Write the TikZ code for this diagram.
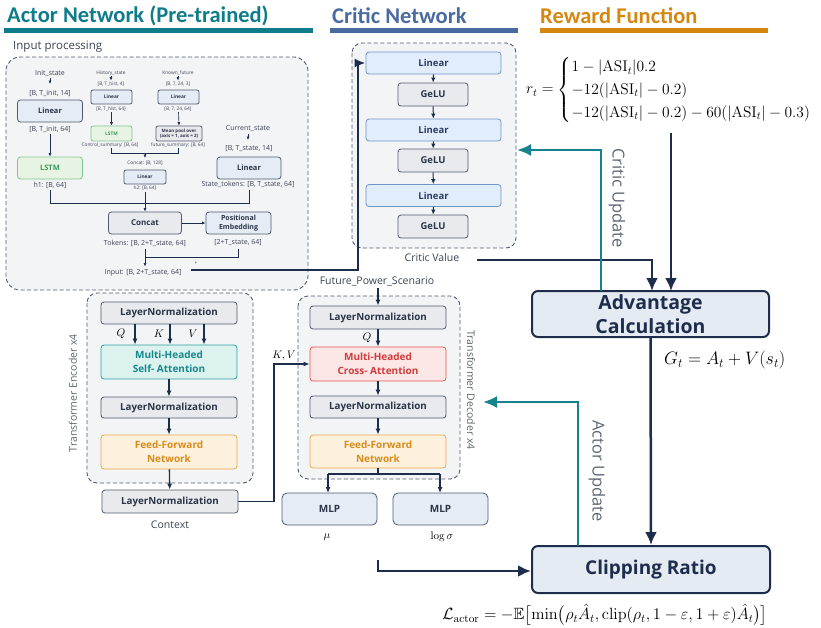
\RequirePackage{fix-cm}
\documentclass[tikz,border=0pt]{standalone}
\usepackage{amsmath,amssymb}
\usepackage[no-math]{fontspec}
\setmainfont{Open Sans}
\newfontfamily\hdfont{Carlito}
\usetikzlibrary{arrows.meta,calc}
\newcommand{\fsz}[2]{\fontsize{#1}{#2}\selectfont}
\definecolor{navy}{HTML}{1F2D4D}
\definecolor{navytext}{HTML}{2B3548}
\definecolor{edge}{HTML}{4F5A6E}
\definecolor{grayfill}{HTML}{E8EAEE}
\definecolor{bluefill}{HTML}{E5ECF5}
\definecolor{cbluefill}{HTML}{E1EDFA}
\definecolor{cblueedge}{HTML}{7395C6}
\definecolor{cbluetext}{HTML}{2B3A67}
\definecolor{bgfill}{HTML}{F3F4F6}
\definecolor{greenfill}{HTML}{E8F4E3}
\definecolor{greenedge}{HTML}{80C293}
\definecolor{greentext}{HTML}{3A9A5C}
\definecolor{tealfill}{HTML}{DCF2EF}
\definecolor{tealedge}{HTML}{2FA0A2}
\definecolor{tealtext}{HTML}{15888C}
\definecolor{orfill}{HTML}{FDF0DC}
\definecolor{oredge}{HTML}{E6A84C}
\definecolor{ortext}{HTML}{D98B1C}
\definecolor{redfill}{HTML}{FCE6E6}
\definecolor{rededge}{HTML}{E05555}
\definecolor{redtext}{HTML}{D03C3C}
\definecolor{hteal}{HTML}{0F7C8A}
\definecolor{hblue}{HTML}{4A6BA2}
\definecolor{horange}{HTML}{D5870F}
\definecolor{upteal}{HTML}{15828E}
\definecolor{graytext}{HTML}{5E6672}
\definecolor{lbltext}{HTML}{3B4354}
\definecolor{bigfill}{HTML}{E5EBF3}
\tikzset{
  base/.style={draw, rounded corners=3pt, inner sep=0pt, align=center, line width=0.8pt},
  graybox/.style={base, fill=grayfill, draw=edge, text=navytext},
  inbox/.style={base, fill=bluefill, draw=edge, text=navytext},
  cblue/.style={base, fill=cbluefill, draw=cblueedge, text=cbluetext},
  greenbox/.style={base, fill=greenfill, draw=greenedge, text=greentext},
  tealbox/.style={base, fill=tealfill, draw=tealedge, text=tealtext},
  orbox/.style={base, fill=orfill, draw=oredge, text=ortext},
  redbox/.style={base, fill=redfill, draw=rededge, text=redtext},
  bigbox/.style={base, fill=bigfill, draw=navy, line width=2pt, rounded corners=6pt, text=navy},
  dashbox/.style={draw=edge, fill=bgfill, dash pattern=on 4pt off 2.5pt, line width=0.9pt},
  lbl7/.style={font=\fsz{7}{8}, text=lbltext, inner sep=0pt},
  lbl5/.style={font=\fsz{4.8}{5.5}, text=lbltext, inner sep=0pt},
  lbl10/.style={font=\fsz{10.5}{12}, text=lbltext, inner sep=0pt},
  rotlbl/.style={font=\fsz{10.5}{12}, text=graytext, inner sep=0pt},
  updlbl/.style={font=\fsz{16.5}{19}, text=graytext, inner sep=0pt},
  thinarr/.style={draw=navy, line width=0.6pt, -{Latex[length=3.5pt,width=3pt]}},
  thinln/.style={draw=navy, line width=0.6pt},
  midarr/.style={draw=navy, line width=1.3pt, -{Latex[length=6pt,width=5pt]}},
  bigarr/.style={draw=navy, line width=2.5pt, -{Latex[length=13pt,width=12pt]}},
  updarr/.style={draw=upteal, line width=2.3pt, -{Latex[length=14pt,width=12pt]}},
  hdr/.style={anchor=west, inner sep=0pt, font=\hdfont\bfseries\fsz{22.5}{25}},
}
\begin{document}
\begin{tikzpicture}[x=1pt,y=-1pt]
\useasboundingbox (0,0) rectangle (821,627);

% headers
\node[hdr, text=hteal] (hA) at (7,16) {Actor Network (Pre-trained)};
\fill[hteal] (4,28) rectangle (313,33);
\node[hdr, text=hblue] (hC) at (332,16) {Critic Network};
\fill[hblue] (330,28) rectangle (518,33);
\node[hdr, text=horange] (hR) at (540,16) {Reward Function};
\fill[horange] (540,28) rectangle (768,33);

% input processing
\node[anchor=west, inner sep=0pt, font=\fsz{11.5}{14}, text=lbltext] (iplbl) at (13,47) {Input processing};
\draw[dashbox, rounded corners=14pt] (6,57) rectangle (308,290);

% init column
\node[lbl7] (initst) at (50,73) {Init\_state};
\draw[thinarr] (50,78) -- (50,84);
\node[lbl7] (initsh) at (50,93) {[B, T\_init, 14]};
\node[inbox, minimum width=65pt, minimum height=22pt, font=\bfseries\fsz{7.5}{9}] (lin1) at (50,111) {Linear};
\node[lbl7] (init64) at (50,129) {[B, T\_init, 64]};
\node[greenbox, minimum width=65pt, minimum height=22pt, font=\bfseries\fsz{7.5}{9}] (lstm1) at (50,168) {LSTM};
\draw[thinarr] (50,134) -- (lstm1.north);
\node[lbl7] (h1) at (50,185) {h1: [B, 64]};

% history column
\node[lbl5] (hist) at (111,73) {History\_state};
\draw[thinarr] (111,76) -- (111,80.5);
\node[lbl5] (histsh) at (111,84) {[B, T\_hist, 4]};
\node[inbox, minimum width=41pt, minimum height=14pt, font=\bfseries\fsz{4.8}{5.5}, rounded corners=2pt] (lin2) at (111.5,97) {Linear};
\node[lbl5] (hist64) at (111,109) {[B, T\_hist, 64]};
\node[greenbox, minimum width=41pt, minimum height=15pt, font=\bfseries\fsz{4.8}{5.5}, rounded corners=2pt] (lstm2) at (111.5,133.5) {LSTM};
\draw[thinarr] (111.5,112) -- (lstm2.north);
\node[lbl5] (csum) at (110,145) {Control\_summary: [B, 64]};

% known future column
\node[lbl5] (known) at (178,73) {Known\_future};
\draw[thinarr] (178,76) -- (178,80.5);
\node[lbl5] (knownsh) at (178,84) {[B, 7, 24, 3]};
\node[inbox, minimum width=41pt, minimum height=14pt, font=\bfseries\fsz{4.8}{5.5}, rounded corners=2pt] (lin3) at (178.5,97) {Linear};
\node[lbl5] (known64) at (178,109) {[B, 7, 24, 64]};
\node[graybox, minimum width=46pt, minimum height=15pt, font=\bfseries\fsz{4.5}{5.5}, rounded corners=2pt] (pool) at (179,133.5) {Mean pool over\\(axis = 1, axis = 2)};
\draw[thinarr] (178.5,112) -- (pool.north);
\node[lbl5] (fsum) at (178,145) {future\_summary: [B, 64]};
\draw[thinln] (111,148) -- (111,153) -- (178,153) -- (178,148);
\draw[thinarr] (145,153) -- (145,158);
\node[lbl5] (cat128) at (145,163) {Concat: [B, 128]};
\node[inbox, minimum width=42pt, minimum height=14pt, font=\bfseries\fsz{4.8}{5.5}, rounded corners=2pt] (lin4) at (145,177) {Linear};
\node[lbl5] (h2) at (145,188) {h2: [B, 64]};

% current state
\node[lbl7] (curst) at (248,129) {Current\_state};
\draw[thinarr] (248,134) -- (248,140);
\node[lbl7] (cursh) at (249,149) {[B, T\_state, 14]};
\node[inbox, minimum width=64pt, minimum height=22pt, font=\bfseries\fsz{7.5}{9}] (lin5) at (249,168) {Linear};
\node[lbl7] (sttok) at (248,184) {State\_tokens: [B, T\_state, 64]};

% concat and positional embedding
\node[graybox, minimum width=73pt, minimum height=22pt, font=\bfseries\fsz{8}{9}] (concat) at (145,223) {Concat};
\node[inbox, minimum width=65pt, minimum height=22pt, font=\bfseries\fsz{7}{8.5}] (pe) at (238.5,223) {Positional\\Embedding};
\draw[thinln] (50,190) -- (50,203) -- (249,203) -- (249,190);
\draw[thinarr] (145,191.5) -- (concat.north);
\draw[thinarr] (concat.east) -- (pe.west);
\node[lbl7] (tokens) at (145,243) {Tokens: [B, 2+T\_state, 64]};
\node[lbl7] (pe64) at (238,243) {[2+T\_state, 64]};
\draw[thinln] (238,249) -- (238,257) -- (145,257);
\node[lbl7] (inp) at (143,273) {Input: [B, 2+T\_state, 64]};
\draw[thinarr] (145,249) -- (145,266.5);
\node[lbl5] (plus) at (196,263.5) {+};
\coordinate (inpstart) at (191,270);

% critic network
\draw[dashbox, rounded corners=10pt] (352,43) rectangle (516,248);
\node[cblue, minimum width=135pt, minimum height=22pt, font=\bfseries\fsz{9.5}{11}] (cl1) at (433.5,63) {Linear};
\node[graybox, minimum width=70pt, minimum height=23pt, font=\bfseries\fsz{9.5}{11}] (cg1) at (433,94.5) {GeLU};
\node[cblue, minimum width=135pt, minimum height=22pt, font=\bfseries\fsz{9.5}{11}] (cl2) at (433.5,130) {Linear};
\node[graybox, minimum width=70pt, minimum height=23pt, font=\bfseries\fsz{9.5}{11}] (cg2) at (433,160.5) {GeLU};
\node[cblue, minimum width=135pt, minimum height=22pt, font=\bfseries\fsz{9.5}{11}] (cl3) at (433.5,195.5) {Linear};
\node[graybox, minimum width=70pt, minimum height=23pt, font=\bfseries\fsz{9.5}{11}] (cg3) at (433,226.5) {GeLU};
\draw[midarr, line width=1pt, -{Latex[length=5pt,width=4.5pt]}] (cl1) -- (cg1);
\draw[midarr, line width=1pt, -{Latex[length=5pt,width=4.5pt]}] (cg1) -- (cl2);
\draw[midarr, line width=1pt, -{Latex[length=5pt,width=4.5pt]}] (cl2) -- (cg2);
\draw[midarr, line width=1pt, -{Latex[length=5pt,width=4.5pt]}] (cg2) -- (cl3);
\draw[midarr, line width=1pt, -{Latex[length=5pt,width=4.5pt]}] (cl3) -- (cg3);
\node[lbl10] (cval) at (432,258) {Critic Value};

% input line to critic
\draw[draw=navy, line width=2.3pt, -{Latex[length=11pt,width=9pt]}] (inpstart) -- (358,270) -- (358,63) -- (cl1.west);

% reward function
\node[anchor=west, inner sep=0pt, font=\fsz{15.5}{19}] (rew) at (526,90) {$r_t=\begin{cases}1-|\mathrm{ASI}_t|0.2\\ -12(|\mathrm{ASI}_t|-0.2)\\ -12(|\mathrm{ASI}_t|-0.2)-60(|\mathrm{ASI}_t|-0.3)\end{cases}$};

% advantage and clipping
\node[bigbox, minimum width=237pt, minimum height=46pt, font=\bfseries\fsz{19.5}{23.5}] (adv) at (650.5,314) {Advantage\\Calculation};
\node[bigbox, minimum width=238pt, minimum height=47pt, font=\bfseries\fsz{19}{22}] (clip) at (651,569.5) {Clipping Ratio};
\coordinate (cvend) at (477,260);
\draw[bigarr] (cvend) -- (652,260) -- (652,291);
\coordinate (rewend) at (671,133);
\draw[bigarr] (rewend) -- (671,291);
\draw[bigarr] (adv.south) -- (clip.north);
\node[anchor=west, inner sep=0pt, font=\fsz{18}{20}] (gt) at (664,360) {$G_t=A_t+V(s_t)$};
\coordinate (clipin) at (378,560);
\draw[bigarr] (clipin) -- (378,571) -- (clip.west |- 0,571);
\node[inner sep=0pt, font=\fsz{16.3}{19}] (loss) at (605,615) {$\mathcal{L}_{\mathrm{actor}}=-\mathbb{E}\bigl[\min\bigl(\rho_t\hat{A}_t,\mathrm{clip}(\rho_t,1-\varepsilon,1+\varepsilon)\hat{A}_t\bigr)\bigr]$};

% critic update
\coordinate (cuend) at (517,150);
\draw[updarr] (601,291) -- (601,150) -- (cuend);
\node[updlbl, rotate=-90] (cu) at (617,198) {Critic Update};

% encoder
\draw[dashbox, rounded corners=10pt] (87,293) rectangle (253,483);
\node[rotlbl, rotate=90] (enclbl) at (73,393) {Transformer Encoder x4};
\node[graybox, minimum width=136pt, minimum height=22pt, font=\bfseries\fsz{9.8}{11}] (ln1) at (169,313) {LayerNormalization};
\node[tealbox, minimum width=136pt, minimum height=34pt, font=\bfseries\fsz{10}{14}] (mhsa) at (169,362) {Multi-Headed\\Self- Attention};
\node[graybox, minimum width=136pt, minimum height=21pt, font=\bfseries\fsz{9.8}{11}] (ln2) at (169,407.5) {LayerNormalization};
\node[orbox, minimum width=136pt, minimum height=34pt, font=\bfseries\fsz{10}{14}] (ffn) at (169,452) {Feed-Forward\\Network};
\node[graybox, minimum width=136pt, minimum height=23pt, font=\bfseries\fsz{9.8}{11}] (ln3) at (170,501.5) {LayerNormalization};
\draw[midarr] ($(ln1.south)+(-34,0)$) -- ($(mhsa.north)+(-34,0)$);
\draw[midarr] ($(ln1.south)+(1,0)$) -- ($(mhsa.north)+(1,0)$);
\draw[midarr] ($(ln1.south)+(35,0)$) -- ($(mhsa.north)+(35,0)$);
\node[inner sep=0pt, font=\fsz{11}{12}] (qlbl) at (121,334) {$Q$};
\node[inner sep=0pt, font=\fsz{11}{12}] (klbl) at (159,334) {$K$};
\node[inner sep=0pt, font=\fsz{11}{12}] (vlbl) at (193,334) {$V$};
\draw[midarr] (mhsa) -- (ln2);
\draw[midarr] (ln2) -- (ffn);
\draw[midarr] (ffn) -- (ln3);
\node[lbl10] (ctx) at (170,525) {Context};

% decoder
\node[lbl10] (fps) at (377,281) {Future\_Power\_Scenario};
\draw[dashbox, rounded corners=10pt] (298,296) rectangle (460,479);
\node[rotlbl, rotate=-90] (declbl) at (471,390) {Transformer Decoder x4};
\node[graybox, minimum width=136pt, minimum height=23pt, font=\bfseries\fsz{9.8}{11}] (dln1) at (378,317.5) {LayerNormalization};
\node[redbox, minimum width=136pt, minimum height=34pt, font=\bfseries\fsz{10}{14}] (mhca) at (378,364) {Multi-Headed\\Cross- Attention};
\node[graybox, minimum width=136pt, minimum height=22pt, font=\bfseries\fsz{9.8}{11}] (dln2) at (378,407) {LayerNormalization};
\node[orbox, minimum width=136pt, minimum height=33pt, font=\bfseries\fsz{10}{14}] (dffn) at (378,451.5) {Feed-Forward\\Network};
\draw[midarr] (378,288) -- (dln1.north);
\draw[midarr] (dln1) -- (mhca);
\node[inner sep=0pt, font=\fsz{11}{12}] (dq) at (367,338) {$Q$};
\draw[midarr] (mhca) -- (dln2);
\draw[midarr] (dln2) -- (dffn);
\node[inbox, minimum width=95pt, minimum height=32pt, font=\bfseries\fsz{10}{12}, rounded corners=5pt] (mlp1) at (329.5,509) {MLP};
\node[inbox, minimum width=95pt, minimum height=32pt, font=\bfseries\fsz{10}{12}, rounded corners=5pt] (mlp2) at (440.5,509) {MLP};
\draw[draw=navy, line width=1.3pt] (dffn.south) -- (378,474);
\draw[draw=navy, line width=1.3pt] (328,474) -- (440,474);
\draw[midarr] (328,474) -- (328,493);
\draw[midarr] (440,474) -- (440,493);
\node[inner sep=0pt, font=\fsz{11}{12}] (mu) at (327,537) {$\mu$};
\node[inner sep=0pt, font=\fsz{11}{12}] (lsig) at (442,537) {$\log\sigma$};

% K,V
\draw[midarr] (ln3.east) -- (274,501.5) -- (274,364) -- (mhca.west);
\node[inner sep=0pt, font=\fsz{11}{12}] (kv) at (284,356) {$K,V$};

% actor update
\coordinate (auend) at (483,402);
\draw[updarr] (578,546) -- (578,402) -- (auend);
\node[updlbl, rotate=-90] (au) at (597,471) {Actor Update};
\end{tikzpicture}
\end{document}
